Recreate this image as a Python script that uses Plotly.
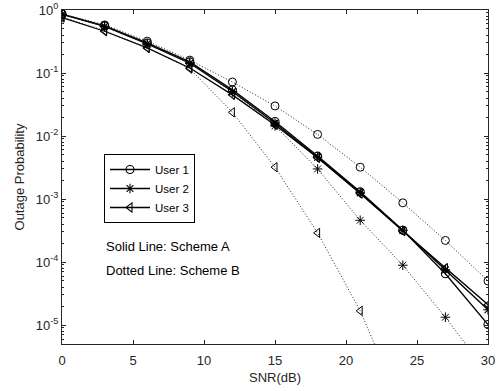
import plotly.graph_objects as go
import numpy as np

snr = [0, 3, 6, 9, 12, 15, 18, 21, 24, 27, 30]

# Scheme A (solid)
a_user1 = [0.86, 0.56, 0.30, 0.150, 0.054, 0.0170, 0.0048, 0.00130, 0.00032, 6.5e-5, 1.02e-5]
a_user2 = [0.85, 0.55, 0.29, 0.143, 0.051, 0.0160, 0.0046, 0.00125, 0.00032, 7.5e-5, 1.75e-5]
a_user3 = [0.76, 0.46, 0.25, 0.120, 0.045, 0.0150, 0.0045, 0.00122, 0.00031, 8.0e-5, 2.1e-5]

# Scheme B (dotted)
b_user1 = [0.87, 0.58, 0.32, 0.160, 0.072, 0.030, 0.0106, 0.0032, 0.00087, 0.00022, 5.0e-5]
b_user2 = [0.85, 0.55, 0.29, 0.143, 0.050, 0.0145, 0.0030, 0.00046, 8.9e-5, 1.33e-5, 1.7e-6]
b_user3 = [0.78, 0.47, 0.25, 0.117, 0.0238, 0.0032, 0.00029, 1.68e-5, 4.5e-7, None, None]

names = ["User 1", "User 2", "User 3"]
symbols = ["circle-open", "asterisk-open", "triangle-left-open"]

ytick_vals = [1e-5, 1e-4, 1e-3, 1e-2, 1e-1, 1]
ytick_text = ["10<sup>-5</sup>", "10<sup>-4</sup>", "10<sup>-3</sup>", "10<sup>-2</sup>", "10<sup>-1</sup>", "10<sup>0</sup>"]
xtick_vals = [0, 5, 10, 15, 20, 25, 30]

minor_y = [m * 10.0 ** e for e in range(-6, 0) for m in range(2, 10)]
minor_y = [v for v in minor_y if 5e-6 <= v < 1]

FAM = "Liberation Sans, Arial, sans-serif"
AXC = "#262626"

fig = go.Figure()

for ya, name, sym in zip([a_user1, a_user2, a_user3], names, symbols):
    fig.add_trace(go.Scatter(
        x=snr, y=ya, name=name, mode="lines+markers",
        line=dict(color="black", width=1.3),
        marker=dict(symbol=sym, size=8, color="black", line=dict(color="black", width=1.1)),
        showlegend=True,
    ))

for yb, name, sym in zip([b_user1, b_user2, b_user3], names, symbols):
    fig.add_trace(go.Scatter(
        x=snr, y=yb, name=name + " (B)", mode="lines+markers",
        line=dict(color="#222222", width=1.0, dash="1px,2px"),
        marker=dict(symbol=sym, size=8, color="black", line=dict(color="black", width=1.0)),
        showlegend=False, connectgaps=False,
    ))

tick_font = dict(family=FAM, size=13, color=AXC)
title_font = dict(family=FAM, size=13, color=AXC)

T, B = 10, 47
ph = 391 - T - B

fig.update_layout(
    width=504, height=391,
    margin=dict(l=62, r=16, t=T, b=B, autoexpand=False),
    paper_bgcolor="white", plot_bgcolor="white",
    font=dict(family=FAM, size=13, color=AXC),
    showlegend=True,
    legend=dict(
        x=(104 - 62) / 426, y=1 - (154 - T) / ph, xanchor="left", yanchor="top",
        bgcolor="white", bordercolor="black", borderwidth=1,
        font=dict(family=FAM, size=11.5, color="black"),
        itemwidth=40, tracegroupgap=0,
    ),
    xaxis=dict(
        range=[0, 30], tickvals=xtick_vals, ticks="inside", ticklen=4,
        showline=True, linecolor=AXC, linewidth=1, mirror="ticks", tickcolor=AXC,
        showgrid=False, zeroline=False, ticklabelstandoff=4, automargin=False,
        title=dict(text="SNR(dB)", standoff=6, font=title_font),
        tickfont=tick_font,
    ),
    yaxis=dict(
        type="log", range=[np.log10(5e-6), 0],
        tickvals=ytick_vals, ticktext=ytick_text,
        ticks="inside", ticklen=4, tickcolor=AXC,
        showline=True, linecolor=AXC, linewidth=1, mirror="ticks",
        showgrid=False, zeroline=False, automargin=False,
        minor=dict(tickvals=minor_y, ticks="inside", ticklen=2, tickcolor=AXC),
        title=dict(text="Outage Probability", standoff=8, font=title_font),
        tickfont=tick_font,
    ),
    annotations=[
        dict(x=(104 - 62) / 426, y=1 - (246.5 - T) / ph, xref="paper", yref="paper",
             xanchor="left", yanchor="middle", text="Solid Line: Scheme A", showarrow=False,
             font=dict(size=13, color="black", family=FAM)),
        dict(x=(104 - 62) / 426, y=1 - (270.0 - T) / ph, xref="paper", yref="paper",
             xanchor="left", yanchor="middle", text="Dotted Line: Scheme B", showarrow=False,
             font=dict(size=13, color="black", family=FAM)),
    ],
)

fig.write_html("out.html")
